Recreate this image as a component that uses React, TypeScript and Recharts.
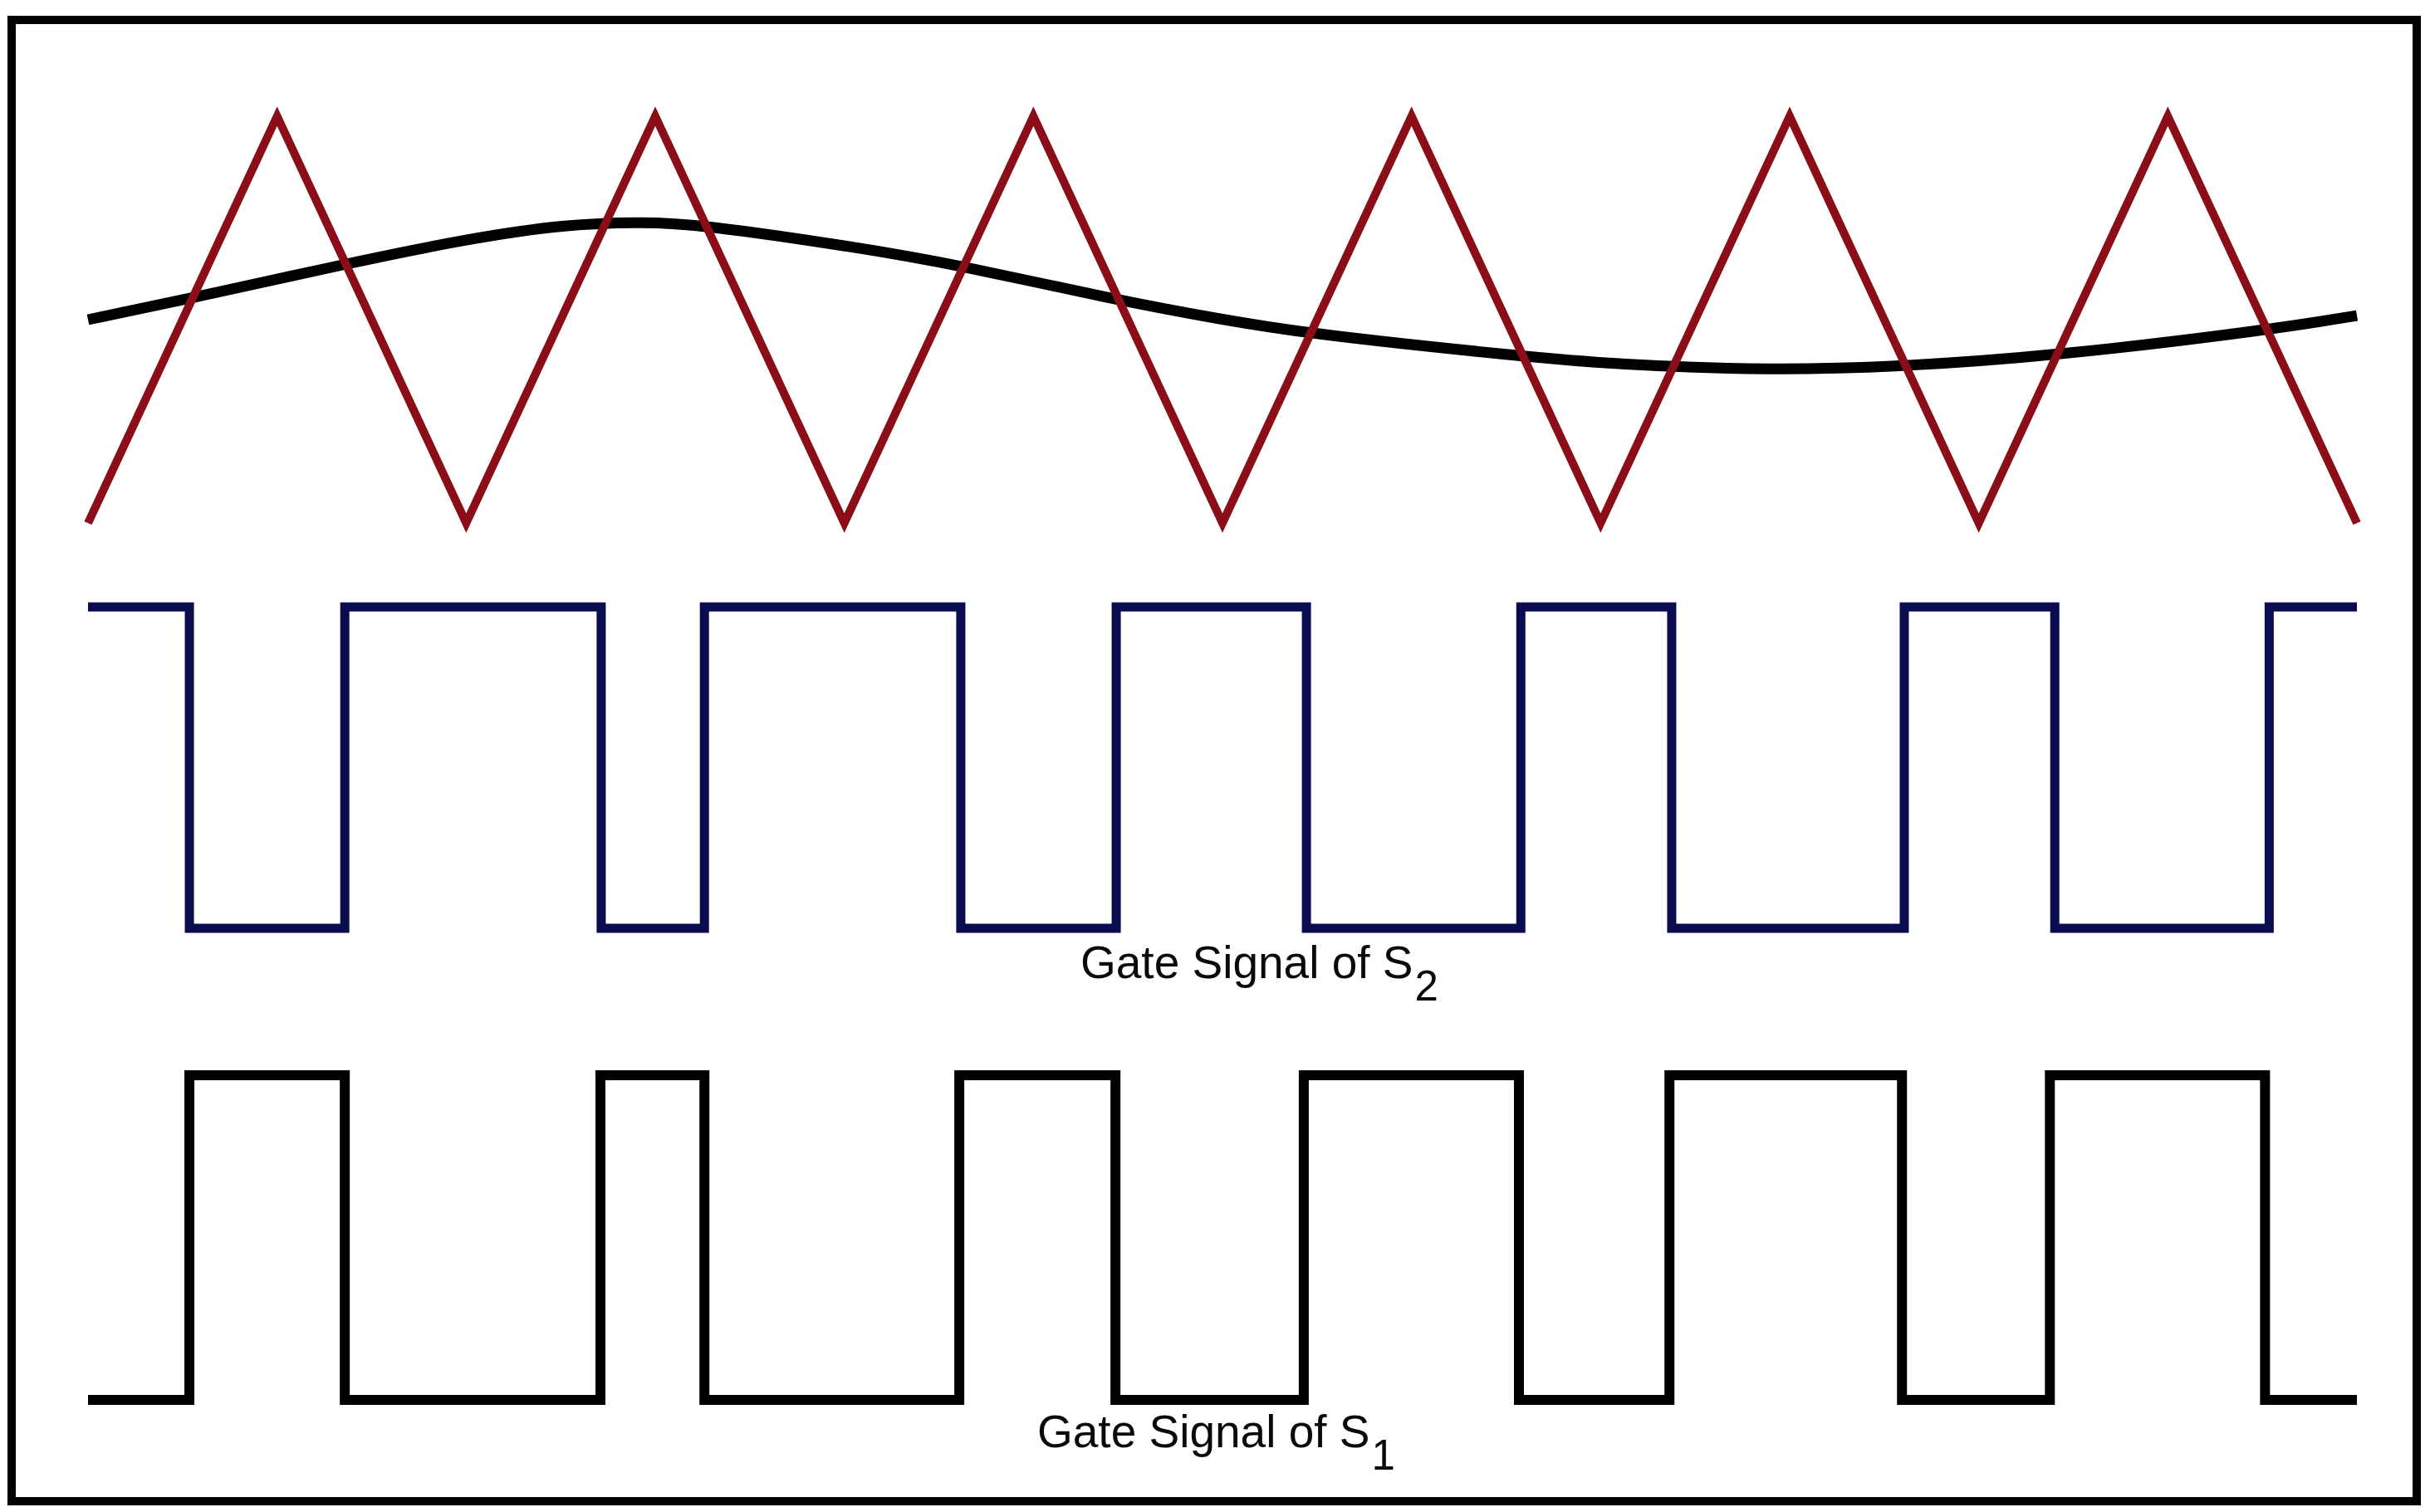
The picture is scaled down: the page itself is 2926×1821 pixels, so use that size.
import React from 'react';
import { LineChart, Line, XAxis, YAxis } from 'recharts';

// time axis in carrier periods: triangle troughs sit at 0, 1, ... 6
const carrierT = [0, 0.5, 1, 1.5, 2, 2.5, 3, 3.5, 4, 4.5, 5, 5.5, 6];
const carrierV = [-1, 1, -1, 1, -1, 1, -1, 1, -1, 1, -1, 1, -1];

// reference (modulating) wave
const refT = [0, 0.26, 0.67, 1.01, 1.27, 1.47, 1.61, 2.02, 2.3, 2.71, 3.0, 3.23, 3.79, 4.04, 4.45, 4.8, 5.19, 5.77, 6];
const refV = [0, 0.1, 0.27, 0.4, 0.47, 0.48, 0.47, 0.36, 0.27, 0.1, 0, -0.07, -0.18, -0.22, -0.25, -0.23, -0.18, -0.05, 0.02];

// gate signals: switching instants and levels
const s2T = [0, 0.268, 0.679, 1.357, 1.63, 2.308, 2.719, 3.222, 3.789, 4.188, 4.803, 5.201, 5.768, 6];
const s2V = [1, 0, 1, 0, 1, 0, 1, 0, 1, 0, 1, 0, 1, 1];
const s1T = [0, 0.268, 0.679, 1.355, 1.63, 2.304, 2.717, 3.215, 3.784, 4.182, 4.797, 5.188, 5.757, 6];
const s1V = [0, 1, 0, 1, 0, 1, 0, 1, 0, 1, 0, 1, 0, 0];

const labelS2 = ['Gate Signal of S', '2'];
const labelS1 = ['Gate Signal of S', '1'];

const toRows = (ts: number[], vs: number[]) => ts.map((t, i) => ({ t, v: vs[i] }));

const carrier = toRows(carrierT, carrierV);
const reference = toRows(refT, refV);
const gateS2 = toRows(s2T, s2V);
const gateS1 = toRows(s1T, s1V);

const W = 2926;
const H = 1821;
const X_LEFT = 106;
const X_RIGHT = 2838;

function Panel({ top, bottom, domain, children }: any) {
  return (
    <div style={{ position: 'absolute', left: 0, top: 0 }}>
      <LineChart
        width={W}
        height={H}
        margin={{ left: X_LEFT, right: W - X_RIGHT, top, bottom: H - bottom }}
      >
        <XAxis type="number" dataKey="t" domain={[0, 6]} hide />
        <YAxis type="number" domain={domain} hide width={0} />
        {children}
      </LineChart>
    </div>
  );
}

const labelStyle: React.CSSProperties = {
  position: 'absolute',
  fontFamily: '"Liberation Sans", Arial, sans-serif',
  fontSize: 55,
  lineHeight: '56px',
  color: '#0a0a0a',
  whiteSpace: 'nowrap',
};

const subStyle: React.CSSProperties = { fontSize: 51, position: 'relative', top: 27, marginLeft: 2 };

export default function App() {
  return (
    <div style={{ position: 'absolute', left: 0, top: 0, width: W, height: H, background: '#fff' }}>
      <Panel top={140} bottom={630} domain={[-1, 1]}>
        <Line
          data={reference}
          dataKey="v"
          type="basis"
          stroke="#000"
          strokeWidth={13}
          dot={false}
          isAnimationActive={false}
        />
        <Line
          data={carrier}
          dataKey="v"
          type="linear"
          stroke="#8b0d18"
          strokeWidth={10}
          dot={false}
          isAnimationActive={false}
        />
      </Panel>
      <Panel top={731} bottom={1118} domain={[0, 1]}>
        <Line
          data={gateS2}
          dataKey="v"
          type="stepAfter"
          stroke="#0b0b4f"
          strokeWidth={11}
          strokeLinejoin="miter"
          dot={false}
          isAnimationActive={false}
        />
      </Panel>
      <Panel top={1295} bottom={1686} domain={[0, 1]}>
        <Line
          data={gateS1}
          dataKey="v"
          type="stepAfter"
          stroke="#000"
          strokeWidth={12}
          strokeLinejoin="miter"
          dot={false}
          isAnimationActive={false}
        />
      </Panel>
      <div style={{ ...labelStyle, left: 1301, top: 1131 }}>
        {labelS2[0]}
        <span style={subStyle}>{labelS2[1]}</span>
      </div>
      <div style={{ ...labelStyle, left: 1249, top: 1696 }}>
        {labelS1[0]}
        <span style={subStyle}>{labelS1[1]}</span>
      </div>
      <div
        style={{
          position: 'absolute',
          left: 9,
          top: 19,
          width: 2906,
          height: 1794,
          border: '10px solid #000',
          boxSizing: 'border-box',
        }}
      />
    </div>
  );
}
